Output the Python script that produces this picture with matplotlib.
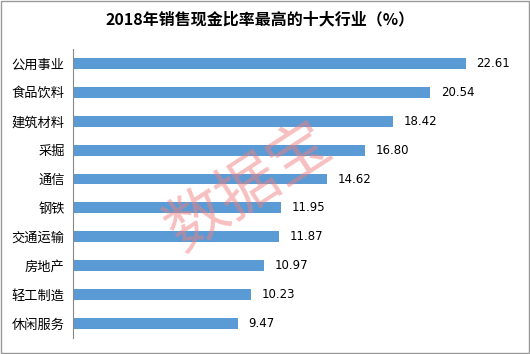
import numpy as np
import matplotlib.pyplot as plt
from matplotlib.patches import Rectangle

plt.rcParams['font.family'] = ['Noto Sans CJK SC', 'DejaVu Sans']

industries = ["公用事业", "食品饮料", "建筑材料", "采掘", "通信",
              "钢铁", "交通运输", "房地产", "轻工制造", "休闲服务"]
ratios = [22.61, 20.54, 18.42, 16.80, 14.62, 11.95, 11.87, 10.97, 10.23, 9.47]

fig = plt.figure(figsize=(5.30, 3.54), dpi=100)
ax = fig.add_axes([0.138, 0.045, 0.82, 0.817])

y = np.arange(len(industries))
ax.barh(y, ratios, height=0.38, color='#5b9bd5')
for yi, v in zip(y, ratios):
    ax.text(v + 0.6, yi, f"{v:.2f}", va='center', ha='left', fontsize=8.5,
            family='DejaVu Sans')

ax.set_yticks(y)
ax.set_yticklabels(industries, fontsize=9.5)
ax.set_ylim(len(industries) - 0.5, -0.5)
ax.set_xlim(0, 25)
ax.set_xticks([])
ax.tick_params(axis='y', length=0, pad=6)
for s in ['top', 'right', 'bottom']:
    ax.spines[s].set_visible(False)
ax.spines['left'].set_color('#888888')

fig.text(0.49, 0.945, "2018年销售现金比率最高的十大行业（%）", ha='center', va='center',
         fontsize=11.5, fontweight='bold')

# watermark
fig.text(0.47, 0.47, "数据宝", ha='center', va='center', fontsize=44, color='#f08080',
         alpha=0.5, rotation=33)

fig.add_artist(Rectangle((0.001, 0.002), 0.997, 0.995, transform=fig.transFigure,
                         fill=False, edgecolor='#999999', linewidth=1))

fig.savefig('out.png', dpi=100)
